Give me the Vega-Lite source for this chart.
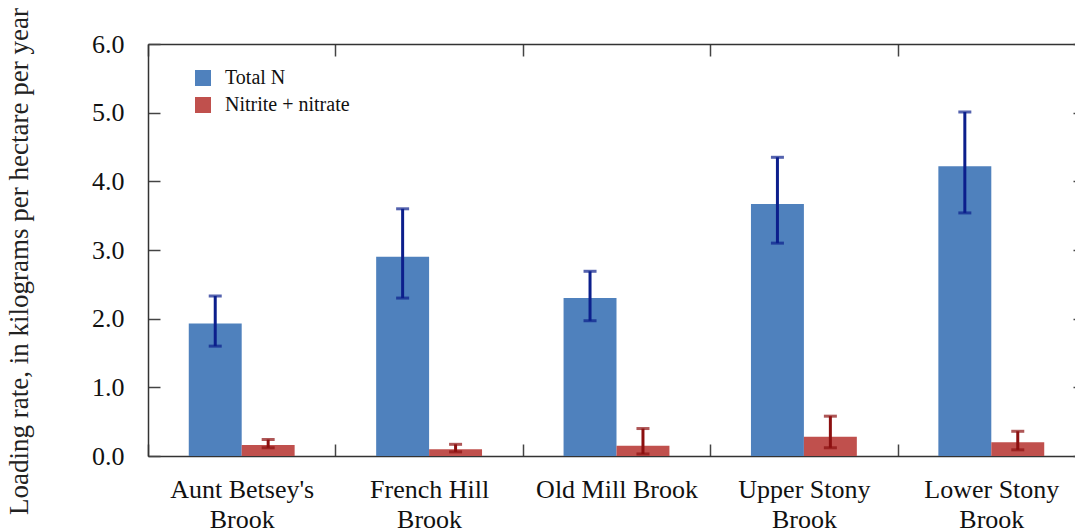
{
  "$schema": "https://vega.github.io/schema/vega-lite/v6.json",
  "width": 927,
  "height": 412,
  "autosize": {"type": "none"},
  "padding": {"left": 148, "top": 44, "right": 0, "bottom": 75},
  "background": "white",
  "config": {
    "font": "Liberation Serif",
    "view": {"stroke": null},
    "axis": {"grid": false, "domainColor": "#333333", "domainWidth": 1.5, "tickColor": "#444444", "tickWidth": 1.5, "labelColor": "#111111", "labelFontSize": 26, "labelFont": "Liberation Serif", "titleFont": "Liberation Serif"}
  },
  "data": {
    "values": [
      {"brook": "Aunt Betsey's Brook", "series": "Total N", "value": 1.93, "lo": 1.60, "hi": 2.33},
      {"brook": "Aunt Betsey's Brook", "series": "Nitrite + nitrate", "value": 0.16, "lo": 0.12, "hi": 0.24},
      {"brook": "French Hill Brook", "series": "Total N", "value": 2.90, "lo": 2.30, "hi": 3.60},
      {"brook": "French Hill Brook", "series": "Nitrite + nitrate", "value": 0.10, "lo": 0.06, "hi": 0.17},
      {"brook": "Old Mill Brook", "series": "Total N", "value": 2.30, "lo": 1.97, "hi": 2.69},
      {"brook": "Old Mill Brook", "series": "Nitrite + nitrate", "value": 0.15, "lo": 0.03, "hi": 0.40},
      {"brook": "Upper Stony Brook", "series": "Total N", "value": 3.67, "lo": 3.10, "hi": 4.35},
      {"brook": "Upper Stony Brook", "series": "Nitrite + nitrate", "value": 0.28, "lo": 0.12, "hi": 0.58},
      {"brook": "Lower Stony Brook", "series": "Total N", "value": 4.22, "lo": 3.54, "hi": 5.01},
      {"brook": "Lower Stony Brook", "series": "Nitrite + nitrate", "value": 0.20, "lo": 0.09, "hi": 0.36}
    ]
  },
  "encoding": {
    "x": {"field": "brook", "type": "nominal", "sort": ["Aunt Betsey's Brook", "French Hill Brook", "Old Mill Brook", "Upper Stony Brook", "Lower Stony Brook"], "scale": {"range": [0, 937], "paddingInner": 0, "paddingOuter": 0}},
    "xOffset": {"field": "series", "type": "nominal", "sort": ["Total N", "Nitrite + nitrate"], "scale": {"paddingInner": 0, "paddingOuter": 0.77}}
  },
  "layer": [
    {
      "mark": {"type": "bar"},
      "encoding": {
        "x": {"field": "brook", "type": "nominal", "sort": ["Aunt Betsey's Brook", "French Hill Brook", "Old Mill Brook", "Upper Stony Brook", "Lower Stony Brook"],
          "axis": {"orient": "bottom", "title": null, "labelAngle": 0, "tickBand": "extent", "tickSize": -12, "labelPadding": 32, "labelLineHeight": 30, "labelBaseline": "top",
            "labelExpr": "datum.label == '' ? '' : datum.label == 'Old Mill Brook' ? datum.label : [replace(datum.label, ' Brook', ''), 'Brook']"}},
        "y": {"field": "value", "type": "quantitative", "scale": {"domain": [0, 6], "nice": false},
          "axis": {"orient": "left", "values": [0, 1, 2, 3, 4, 5, 6], "format": ".1f", "tickSize": -12, "labelPadding": 36,
            "title": "Loading rate, in kilograms per hectare per year", "titleFontSize": 27, "titleFontWeight": "normal", "titleColor": "#222222",
            "titleAngle": 270, "titleX": -115, "titleY": 217, "titleAlign": "center", "titleBaseline": "bottom"}},
        "color": {"field": "series", "type": "nominal", "scale": {"domain": ["Total N", "Nitrite + nitrate"], "range": ["#4F81BD", "#C0504D"]},
          "legend": {"orient": "none", "legendX": 45, "legendY": 24, "title": null, "padding": 0, "symbolType": "square", "symbolSize": 256, "symbolStrokeWidth": 0, "symbolOpacity": 1,
            "labelFontSize": 20, "labelColor": "#111111", "labelFont": "Liberation Serif", "labelOffset": 12, "rowPadding": 7}}
      }
    },
    {
      "mark": {"type": "rule", "strokeWidth": 3},
      "encoding": {
        "x": {"field": "brook", "type": "nominal", "sort": ["Aunt Betsey's Brook", "French Hill Brook", "Old Mill Brook", "Upper Stony Brook", "Lower Stony Brook"],
          "axis": {"orient": "top", "title": null, "labels": false, "tickBand": "extent", "tickSize": -12}},
        "y": {"field": "lo", "type": "quantitative", "axis": {"orient": "right", "title": null, "labels": false, "values": [0, 1, 2, 3, 4, 5, 6], "tickSize": -12, "offset": 10}},
        "y2": {"field": "hi"},
        "stroke": {"field": "series", "type": "nominal", "scale": {"domain": ["Total N", "Nitrite + nitrate"], "range": ["#0C1F8C", "#8C1010"]}, "legend": null}
      }
    },
    {
      "mark": {"type": "tick", "thickness": 3, "size": 13},
      "encoding": {
        "x": {"field": "brook", "type": "nominal", "sort": ["Aunt Betsey's Brook", "French Hill Brook", "Old Mill Brook", "Upper Stony Brook", "Lower Stony Brook"], "axis": null},
        "y": {"field": "lo", "type": "quantitative", "axis": null},
        "fill": {"field": "series", "type": "nominal", "scale": {"domain": ["Total N", "Nitrite + nitrate"], "range": ["#0C1F8C", "#8C1010"]}, "legend": null}
      }
    },
    {
      "mark": {"type": "tick", "thickness": 3, "size": 13},
      "encoding": {
        "x": {"field": "brook", "type": "nominal", "sort": ["Aunt Betsey's Brook", "French Hill Brook", "Old Mill Brook", "Upper Stony Brook", "Lower Stony Brook"], "axis": null},
        "y": {"field": "hi", "type": "quantitative", "axis": null},
        "fill": {"field": "series", "type": "nominal", "scale": {"domain": ["Total N", "Nitrite + nitrate"], "range": ["#0C1F8C", "#8C1010"]}, "legend": null}
      }
    }
  ],
  "resolve": {"axis": {"x": "independent", "y": "independent"}}
}
